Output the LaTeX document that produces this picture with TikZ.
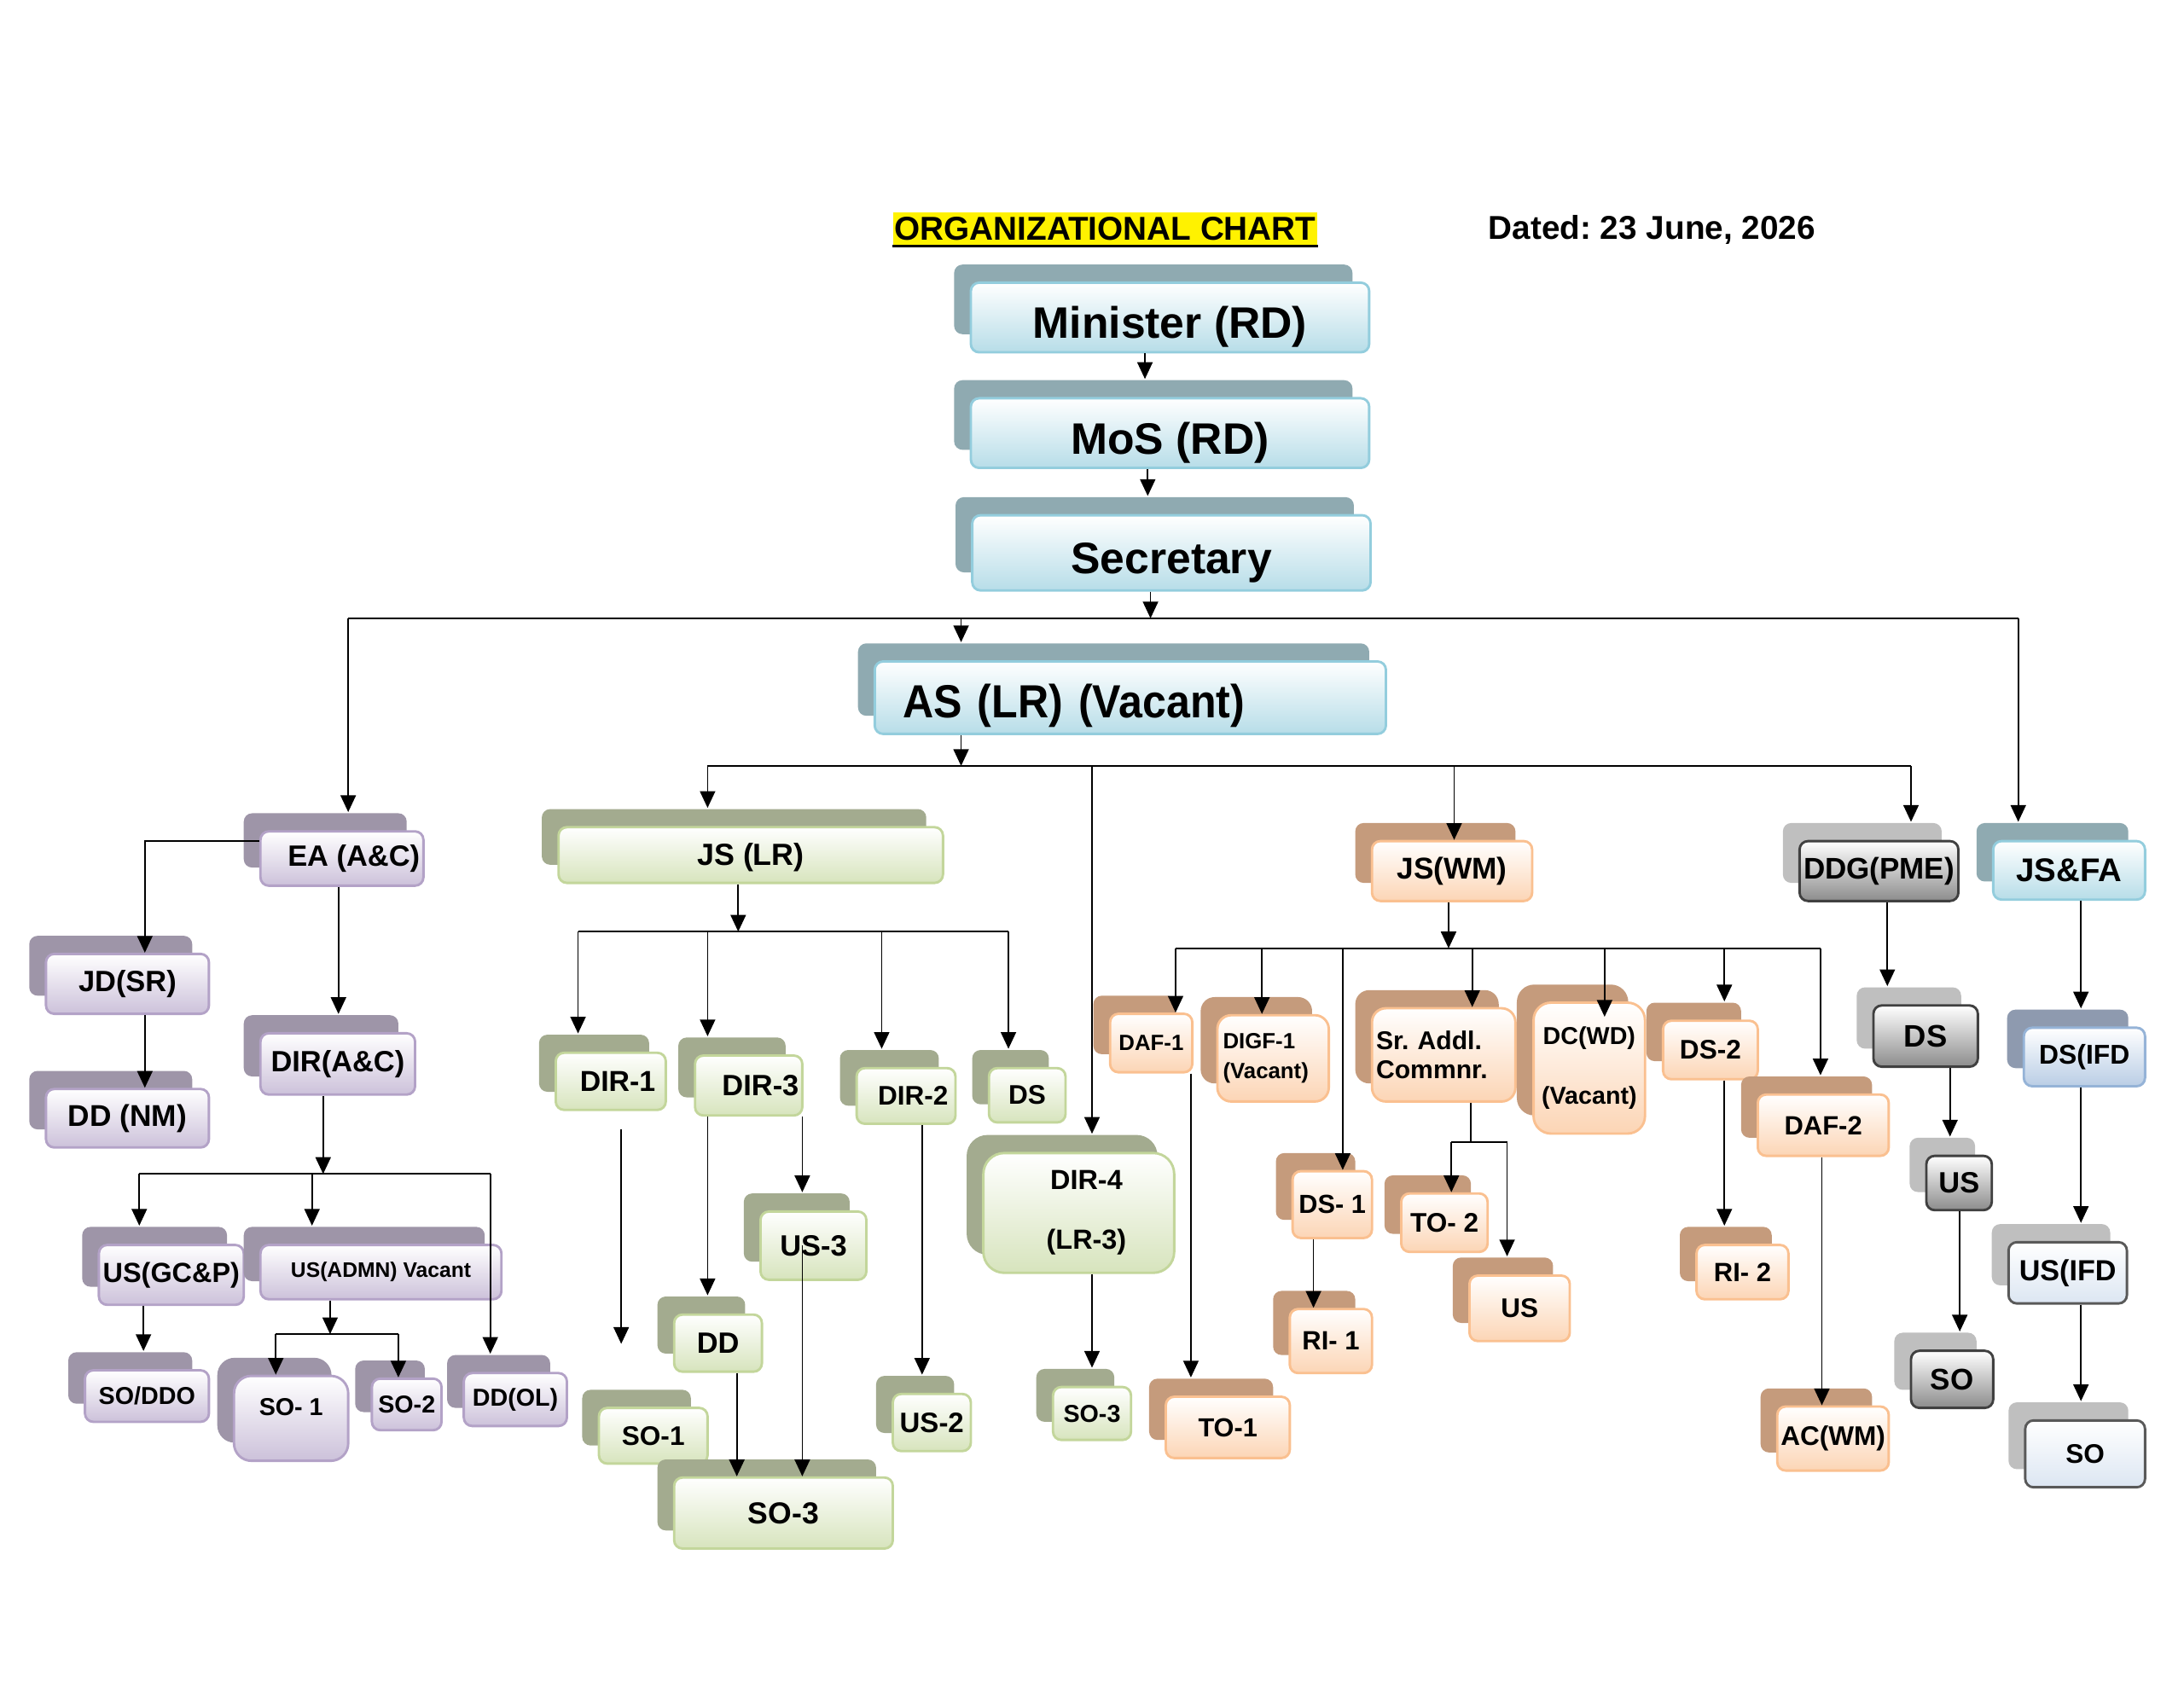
\documentclass[tikz,border=0pt]{standalone}
\usepackage{fontspec}
\setmainfont{Liberation Sans}
\newfontfamily\narrowfont{Liberation Sans}[FakeStretch=0.92]
\usetikzlibrary{arrows.meta,shadows}

\definecolor{topfill}{HTML}{B7DDE8}
\definecolor{topline}{HTML}{93CDDD}
\definecolor{topshade}{HTML}{8FAAB1}
\definecolor{lavfill}{HTML}{CCC1DA}
\definecolor{lavline}{HTML}{B3A2C7}
\definecolor{lavshade}{HTML}{9E95A8}
\definecolor{grnfill}{HTML}{D7E4BD}
\definecolor{grnline}{HTML}{C3D69B}
\definecolor{grnshade}{HTML}{A3AB8F}
\definecolor{orgfill}{HTML}{FCD5B5}
\definecolor{orgline}{HTML}{FAC090}
\definecolor{orgshade}{HTML}{C59B7C}
\definecolor{gryfill}{HTML}{8C8C8C}
\definecolor{gryline}{HTML}{404040}
\definecolor{gryshade}{HTML}{BFBFBF}
\definecolor{stlfill}{HTML}{B9CDE5}
\definecolor{stlline}{HTML}{95B3D7}
\definecolor{stlshade}{HTML}{8E9AAF}
\definecolor{palfill}{HTML}{DCE6F2}
\definecolor{palline}{HTML}{595959}

\tikzset{
  fsz/.style={font=\bfseries\fontsize{#1}{12}\selectfont},
  sz/.style 2 args={minimum width=#1*0.02cm, minimum height=#2*0.02cm},
  box/.style={rounded corners=0.12cm, line width=1pt, inner sep=1pt, align=center, fsz=12},
  grp/.style n args={3}{box, top color=white, bottom color=#1, draw=#2,
    copy shadow={shadow xshift=-0.24cm, shadow yshift=0.26cm, fill=#3, draw=none, shade=false}},
  topc/.style={grp={topfill}{topline}{topshade}},
  lav/.style={grp={lavfill}{lavline}{lavshade}},
  grn/.style={grp={grnfill}{grnline}{grnshade}},
  org/.style={grp={orgfill}{orgline}{orgshade}},
  gry/.style={grp={gryfill}{gryline}{gryshade}},
  stl/.style={grp={stlfill}{stlline}{stlshade}},
  pal/.style={grp={palfill}{palline}{gryshade}},
  ln/.style={line width=0.6pt},
  arr/.style={ln, -{Triangle[length=0.24cm,width=0.22cm]}},
  tosh/.style={shorten >=0.26cm}
}

\begin{document}
\frenchspacing
\begin{tikzpicture}[x=0.02cm, y=-0.02cm]
    \useasboundingbox (0,0) rectangle (1568,1212);

    \node [fill=yellow, inner xsep=0.5pt, inner ysep=2pt, fsz=13.5] (title) at (793.5,164.5) {ORGANIZATIONAL CHART};
    \draw [line width=1.2pt] (title.south west) -- (title.south east);
    \node [fsz=13.5] (date) at (1186,165) {Dated: 23 June, 2026};

    \node [topc, sz={286}{50}, fsz=18, text height=21pt] (min) at (840,228) {Minister (RD)};
    \node [topc, sz={286}{50}, fsz=18, text height=21pt] (mos) at (840,311) {MoS (RD)};
    \node [topc, sz={286}{54}, fsz=18, text height=21pt] (sec) at (841,397) {Secretary};
    \node [topc, sz={367}{52}, font=\narrowfont\bfseries\fontsize{19}{20}\selectfont, text height=20.6pt, text width=6.54cm, align=left, inner xsep=0.4cm] (as) at (811.5,501) {AS (LR) (Vacant)};

    \node [lav, sz={117}{39}] (ea) at (245.5,616.5) {\hspace*{0.34cm}EA (A\&C)};
    \node [lav, sz={117}{43}] (jd) at (91.5,706.5) {JD(SR)};
    \node [lav, sz={117}{42}, fsz=12.3] (ddnm) at (91.5,803) {DD (NM)};
    \node [lav, sz={111}{44}] (dirac) at (242.5,764) {DIR(A\&C)};
    \node [lav, sz={104}{43}, fsz=11.3] (usgc) at (123,915.5) {US(GC\&P)};
    \node [lav, sz={173}{39}, fsz=8.6] (usad) at (273.5,913.5) {US(ADMN) Vacant};
    \node [lav, sz={89}{37}, fsz=10] (sodd) at (105.5,1002.5) {SO/DDO};
    \node [lav, sz={82}{61}, fsz=10, text depth=0.34cm, rounded corners=0.25cm] (soa) at (209,1018.5) {SO- 1};
    \node [lav, sz={50}{37}, fsz=10] (sob) at (292,1008.5) {SO-2};
    \node [lav, sz={74}{38}, fsz=10] (ddol) at (370,1005) {DD(OL)};

    \node [grn, sz={276}{40}, fsz=12.5, text height=11pt] (jslr) at (539,614) {JS (LR)};
    \node [grn, sz={79}{41}, fsz=11.8] (dir1) at (438.5,776.5) {\hspace*{0.2cm}DIR-1};
    \node [grn, sz={77}{43}] (dir3) at (537.5,779.5) {\hspace*{0.34cm}DIR-3};
    \node [grn, sz={71}{40}, fsz=11] (dir2) at (650.5,787) {\hspace*{0.2cm}DIR-2};
    \node [grn, sz={55}{39}, fsz=11] (dsg) at (737.5,786.5) {DS};
    \node [grn, sz={76}{49}] (us3) at (584,894.5) {US-3};
    \node [grn, sz={63}{41}] (ddlr) at (515.5,964.5) {DD};
    \node [grn, sz={78}{40}, fsz=11] (so1) at (469,1031) {SO-1};
    \node [grn, sz={157}{51}, fsz=12.4] (so3) at (562.5,1086.5) {SO-3};
    \node [grn, sz={56}{41}, fsz=11.5] (us2) at (669,1021.5) {US-2};
    \node [grn, sz={137}{86}, fsz=11.3, rounded corners=0.3cm] (dir4) at (774.5,871) {\hspace*{0.22cm}DIR-4\\[12.5pt]\hspace*{0.22cm}(LR-3)};
    \node [grn, sz={56}{38}, fsz=10] (so3s) at (784,1015) {SO-3};

    \node [org, sz={115}{43}, fsz=12.3] (jswm) at (1042.5,625.5) {JS(WM)};
    \node [org, sz={59}{42}, fsz=9] (daf1) at (826.5,749) {DAF-1};
    \node [org, sz={80}{62}, fsz=9, text width=1.44cm, align=left, inner xsep=0.08cm, rounded corners=0.2cm] (digf) at (914,760) {DIGF-1\\(Vacant)};
    \node [org, sz={103}{67}, fsz=10.5, text width=1.94cm, align=left, inner xsep=0.06cm, rounded corners=0.2cm] (sradd) at (1036.5,757.5) {Sr. Addl.\\Commnr.};
    \node [org, sz={80}{94}, fsz=10, rounded corners=0.25cm] (dcwd) at (1141,767) {DC(WD)\\[12.5pt](Vacant)};
    \node [org, sz={68}{42}, fsz=11] (ds2) at (1228,754) {DS-2};
    \node [org, sz={94}{44}, fsz=10.8] (daf2) at (1309,808) {DAF-2};
    \node [org, sz={57}{48}, fsz=10.7] (ds1) at (956.5,865) {DS- 1};
    \node [org, sz={59}{46}, fsz=10.8] (ri1) at (955.5,963) {RI- 1};
    \node [org, sz={62}{42}, fsz=11] (to2) at (1037,878) {TO- 2};
    \node [org, sz={72}{47}, fsz=11] (uso) at (1091,939.5) {US};
    \node [org, sz={89}{44}, fsz=10.7] (to1) at (881.5,1025) {TO-1};
    \node [org, sz={66}{39}, fsz=10.8] (ri2) at (1251,913.5) {RI- 2};
    \node [org, sz={80}{46}, fsz=11] (acwm) at (1316,1033) {AC(WM)};

    \node [gry, sz={114}{43}, fsz=12.2] (ddgpme) at (1349,625.5) {DDG(PME)};
    \node [gry, sz={75}{44}, fsz=12.7] (dsp) at (1382.5,744) {DS};
    \node [gry, sz={47}{39}, fsz=12] (usp) at (1406.5,849.5) {US};
    \node [gry, sz={59}{41}, fsz=12.2] (sop) at (1401.5,990.5) {SO};

    \node [topc, sz={109}{42}, fsz=13.4] (jsfa) at (1485.5,625) {JS\&FA};
    \node [stl, sz={87}{42}, fsz=11.1] (dsifd) at (1496.5,759) {DS(IFD};
    \node [pal, sz={85}{44}, fsz=11.9] (usifd) at (1484.5,914) {US(IFD};
    \node [pal, sz={86}{48}, fsz=11] (soifd) at (1497,1044) {SO};

    \coordinate (bus1l) at (250,444);
    \coordinate (bus1r) at (1449,444);
    \draw [ln] (bus1l) -- (bus1r);
    \draw [arr, tosh] (822,0 |- min.south) -- (822,0 |- mos.north);
    \draw [arr, tosh] (824,0 |- mos.south) -- (824,0 |- sec.north);
    \draw [arr] (826,0 |- sec.south) -- (826,0 |- bus1l);
    \draw [arr, tosh] (bus1l) -- (bus1l |- ea.north);
    \draw [arr, tosh] (690,0 |- bus1l) -- (690,0 |- as.north);
    \draw [arr, tosh] (bus1r) -- (bus1r |- jsfa.north);

    \coordinate (bus2l) at (508,550);
    \coordinate (bus2r) at (1372,550);
    \draw [arr] (690,0 |- as.south) -- (690,0 |- bus2l);
    \draw [ln] (bus2l) -- (bus2r);
    \draw [arr, tosh] (bus2l) -- (bus2l |- jslr.north);
    \draw [arr, tosh] (784,0 |- bus2l) -- (784,0 |- dir4.north);
    \draw [arr] (1044,0 |- bus2l) -- (1044,0 |- jswm.north);
    \draw [arr, tosh] (bus2r) -- (bus2r |- ddgpme.north);

    \draw [arr] ([yshift=0.25cm]ea.west) -| ([xshift=0.25cm]jd.north);
    \draw [arr, tosh] (243,0 |- ea.south) -- (243,0 |- dirac.north);
    \draw [arr] (104,0 |- jd.south) -- (104,0 |- ddnm.north);
    \coordinate (bus3l) at (100,843);
    \coordinate (bus3r) at (352,843);
    \draw [arr] (232,0 |- dirac.south) -- (232,0 |- bus3l);
    \draw [ln] (bus3l) -- (bus3r);
    \draw [arr, tosh] (bus3l) -- (bus3l |- usgc.north);
    \draw [arr, tosh] (224,0 |- bus3l) -- (224,0 |- usad.north);
    \draw [arr, tosh] (bus3r) -- (bus3r |- ddol.north);
    \draw [arr, tosh] (103,0 |- usgc.south) -- (103,0 |- sodd.north);
    \coordinate (bus4l) at (198,958);
    \coordinate (bus4r) at (286,958);
    \draw [arr] (237,0 |- usad.south) -- (237,0 |- bus4l);
    \draw [ln] (bus4l) -- (bus4r);
    \draw [arr] (bus4l) -- (bus4l |- soa.north);
    \draw [arr] (bus4r) -- (bus4r |- sob.north);

    \coordinate (bus5l) at (415,669);
    \coordinate (bus5r) at (724,669);
    \draw [arr] (530,0 |- jslr.south) -- (530,0 |- bus5l);
    \draw [ln] (bus5l) -- (bus5r);
    \draw [arr, tosh] (bus5l) -- (bus5l |- dir1.north);
    \draw [arr, tosh] (508,0 |- bus5l) -- (508,0 |- dir3.north);
    \draw [arr, tosh] (633,0 |- bus5l) -- (633,0 |- dir2.north);
    \draw [arr, tosh] (bus5r) -- (bus5r |- dsg.north);
    \coordinate (dir1end) at (446,965);
    \draw [arr, shorten <=0.26cm] (dir1end |- dir1.south) -- (dir1end);
    \draw [arr, tosh] (508,0 |- dir3.south) -- (508,0 |- ddlr.north);
    \draw [arr, tosh] (576,0 |- dir3.south) -- (576,0 |- us3.north);
    \draw [arr] (576,0 |- us3.center) -- (576,0 |- so3.north);
    \draw [arr] (529,0 |- ddlr.south) -- (529,0 |- so3.north);
    \draw [arr, tosh] (662,0 |- dir2.south) -- (662,0 |- us2.north);
    \draw [arr, tosh] (784,0 |- dir4.south) -- (784,0 |- so3s.north);

    \coordinate (bus6l) at (844,681);
    \coordinate (bus6r) at (1307,681);
    \draw [arr] (1040,0 |- jswm.south) -- (1040,0 |- bus6l);
    \draw [ln] (bus6l) -- (bus6r);
    \draw [arr] (bus6l) -- (bus6l |- daf1.north);
    \draw [arr] (906,0 |- bus6l) -- (906,0 |- digf.north);
    \draw [arr] (964,0 |- bus6l) -- (964,0 |- ds1.north);
    \draw [arr] (1057,0 |- bus6l) -- (1057,0 |- sradd.north);
    \draw [arr, shorten >=-0.22cm] (1152,0 |- bus6l) -- (1152,0 |- dcwd.north);
    \draw [arr, tosh] (1238,0 |- bus6l) -- (1238,0 |- ds2.north);
    \draw [arr, tosh] (bus6r) -- (bus6r |- daf2.north);
    \draw [arr, tosh] (855,0 |- daf1.south) -- (855,0 |- to1.north);
    \draw [arr] (943,0 |- ds1.south) -- (943,0 |- ri1.north);
    \coordinate (bus7l) at (1042,820);
    \coordinate (bus7r) at (1082,820);
    \draw [ln] (1056,0 |- sradd.south) -- (1056,0 |- bus7l);
    \draw [ln] (bus7l) -- (bus7r);
    \draw [arr] (bus7l) -- (bus7l |- to2.north);
    \draw [arr, tosh] (bus7r) -- (bus7r |- uso.north);
    \draw [arr, tosh] (1238,0 |- ds2.south) -- (1238,0 |- ri2.north);
    \draw [arr] (1308,0 |- daf2.south) -- (1308,0 |- acwm.north);

    \draw [arr, tosh] (1355,0 |- ddgpme.south) -- (1355,0 |- dsp.north);
    \draw [arr, tosh] (1400,0 |- dsp.south) -- (1400,0 |- usp.north);
    \draw [arr, tosh] (1407,0 |- usp.south) -- (1407,0 |- sop.north);

    \draw [arr, tosh] (1494,0 |- jsfa.south) -- (1494,0 |- dsifd.north);
    \draw [arr, tosh] (1494,0 |- dsifd.south) -- (1494,0 |- usifd.north);
    \draw [arr, tosh] (1494,0 |- usifd.south) -- (1494,0 |- soifd.north);
\end{tikzpicture}
\end{document}
